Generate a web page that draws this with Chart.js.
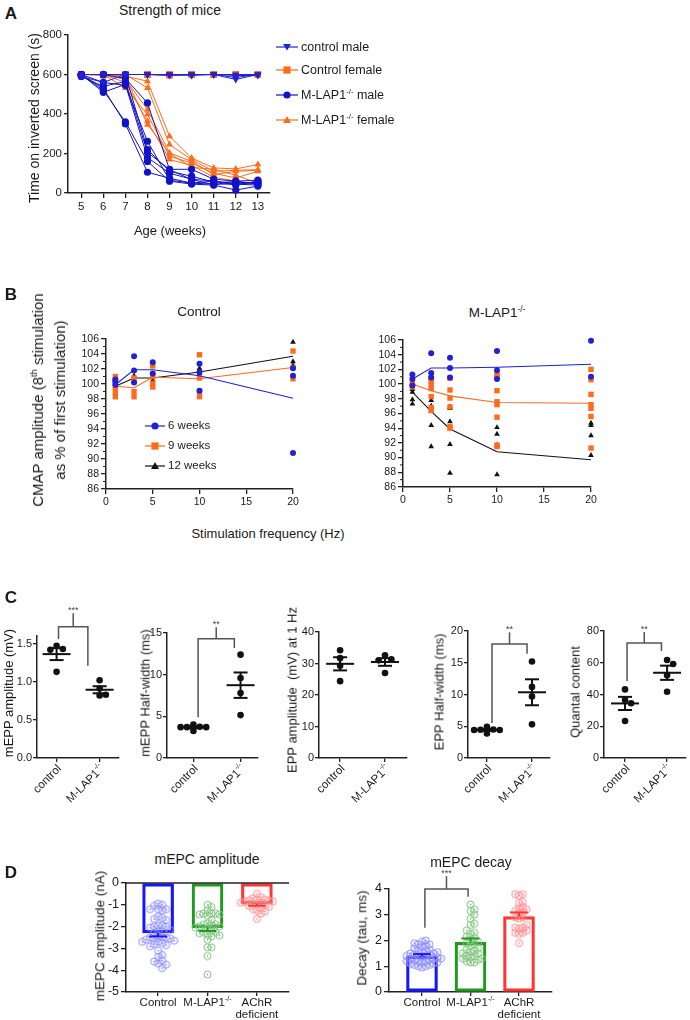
<!DOCTYPE html>
<html>
<head>
<meta charset="utf-8">
<script src="https://cdn.jsdelivr.net/npm/chart.js@4.4.1/dist/chart.umd.min.js"></script>
<style>
  body { margin: 0; width: 690px; height: 1020px; position: relative; overflow: hidden; background: #fff;
         font-family: "Liberation Sans", Arial, sans-serif; color: #1a1a1a; }
  canvas { position: absolute; }
  .t { position: absolute; white-space: nowrap; line-height: 1.15; }
  sup { font-size: 0.62em; vertical-align: baseline; position: relative; top: -0.6em; line-height: 0; }
</style>
</head>
<body>
<script>
const FONT = '"Liberation Sans", Arial, sans-serif';
const BLUE = '#2222d2', ORANGE = '#ff6b1c', BLACK = '#111';

// ---------- A: strength of mice (one line per mouse)
const AGES = [5, 6, 7, 8, 9, 10, 11, 12, 13];
const ctrlMale = [
  [600, 600, 600, 600, 600, 600, 600, 575, 600],
  [590, 560, 600, 600, 600, 595, 600, 585, 600],
  [600, 600, 600, 600, 595, 600, 600, 595, 595],
  [600, 600, 600, 600, 600, 600, 600, 600, 600]
];
const ctrlFemale = [
  [600, 600, 600, 600, 600, 600, 600, 600, 600],
  [600, 600, 600, 600, 600, 600, 600, 600, 600],
  [600, 595, 600, 600, 595, 600, 600, 600, 600],
  [600, 600, 600, 600, 600, 600, 600, 600, 600]
];
const koMale = [
  [600, 530, 350, 105, 75, 50, 45, 45, 40],
  [600, 520, 360, 160, 60, 45, 40, 15, 35],
  [600, 510, 550, 180, 100, 70, 60, 45, 55],
  [590, 540, 565, 205, 120, 120, 70, 60, 65],
  [600, 600, 600, 220, 110, 85, 55, 55, 50],
  [600, 600, 580, 456, 118, 68, 42, 60, 45],
  [600, 560, 545, 262, 65, 50, 60, 40, 60]
];
const koFemale = [
  [600, 600, 592, 566, 287, 177, 127, 122, 144],
  [600, 600, 600, 532, 245, 169, 110, 115, 118],
  [600, 600, 575, 423, 203, 160, 93, 110, 115],
  [600, 600, 532, 397, 186, 152, 100, 76, 110],
  [600, 600, 560, 363, 169, 140, 80, 60, 42],
  [600, 600, 590, 346, 200, 130, 120, 90, 50]
];

// ---------- B: CMAP amplitude vs stimulation frequency
const FREQ = [1, 3, 5, 10, 20];
const ctl6w = [[100.6, 100.3, 99.9], [103.7, 101.8, 100.2], [102.9, 101.4], [102.7, 101.6, 99.1], [102.1, 101.1, 90.8]];
const ctl9w = [[101.0, 100.5, 99.6, 99.0, 98.3], [100.8, 99.0, 98.3], [102.4, 101.0, 100.1, 99.6], [103.9, 100.8, 99.0, 98.3], [104.4, 102.2, 100.7]];
const ctl12w = [[99.7, 98.8], [101.1, 100.5], [101.1, 100.5], [102.1, 101.4], [105.6, 103.0, 102.5]];
const ctl6wMean = [99.9, 101.9, 101.9, 101.1, 98.1];
const ctl9wMean = [99.7, 99.5, 100.9, 100.7, 102.2];
const ctl12wMean = [99.7, 100.8, 100.8, 101.6, 103.7];
const ko6w = [[101.3, 100.7, 99.8], [104.2, 101.5, 100.9], [103.6, 102.2, 100.9], [104.5, 101.9, 100.7], [105.9, 101.0]];
const ko9w = [[100.2, 99.9, 99.6], [100.8, 100.4, 99.9, 99.4, 98.3, 96.8, 96.4], [100.8, 99.2, 98.1, 96.9, 94.2, 94.0],
              [101.3, 101.0, 99.1, 97.6, 97.2, 95.5, 91.7, 91.5], [102.0, 100.6, 98.6, 97.2, 96.7, 95.6, 91.3]];
const ko12w = [[99.3, 98.9, 97.9, 97.3], [97.8, 97.0, 96.3, 94.4, 91.5], [96.9, 96.7, 94.9, 91.8, 87.9], [94.1, 93.2, 91.7, 87.7], [94.7, 94.4, 93.0, 90.3]];
const ko6wMean = [100.7, 102.2, 102.2, 102.3, 102.7];
const ko9wMean = [100.0, 99.1, 98.4, 97.5, 97.4];
const ko12wMean = [98.9, 96.3, 93.9, 90.8, 89.7];

// ---------- C: electrophysiology, control vs M-LAP1-/-
const mEppAmpCtl = [1.47, 1.43, 1.42, 1.13];
const mEppAmpKo = [1.02, 0.91, 0.83, 0.82];
const mEppHwCtl = [4.0, 3.75, 3.7, 3.7, 3.7, 3.25];
const mEppHwKo = [12.4, 9.6, 7.8, 5.15];
const eppAmpCtl = [34.2, 31.7, 29.3, 24.4];
const eppAmpKo = [32.6, 31.3, 31.0, 27.0];
const eppHwCtl = [4.9, 4.5, 4.45, 4.4, 4.4, 3.85];
const eppHwKo = [15.2, 11.2, 9.7, 5.3];
const quantalCtl = [43.2, 36.5, 34.5, 23.3];
const quantalKo = [61.7, 59.2, 52.2, 41.7];

// ---------- D: mEPC amplitude and decay
const D_COLORS = ['#1515ff', '#1f9a1f', '#ff3535'];
const D_LIGHT = ['#8a8aff', '#7cc47c', '#ff8c8c'];
const ampCtl = [-0.95, -1.0, -1.05, -1.2, -1.2, -1.2, -1.25, -1.55, -1.6, -1.65, -1.7, -1.95, -1.95, -2.0, -2.0, -2.05, -2.15, -2.2, -2.2, -2.3, -2.45,
                -2.5, -2.5, -2.5, -2.55, -2.55, -2.6, -2.65, -2.7, -2.7, -2.75, -2.8, -2.85, -2.9, -3.1, -3.3, -3.4, -3.55, -3.6, -3.7, -3.75, -3.9];
const ampKo = [-1.0, -1.1, -1.25, -1.4, -1.4, -1.4, -1.45, -1.45, -1.5, -1.7, -1.85, -1.9, -1.9, -1.95, -2.0, -2.0, -2.05, -2.1, -2.2, -2.25,
               -2.25, -2.3, -2.35, -2.4, -2.45, -2.6, -2.95, -2.95, -3.35, -4.2];
const ampAchr = [-0.5, -0.65, -0.7, -0.75, -0.75, -0.8, -0.8, -0.85, -0.85, -0.9, -0.9, -0.95, -1.0, -1.0, -1.05, -1.1, -1.15, -1.2, -1.25, -1.3, -1.4, -1.65];
const ampMean = [-2.29, -2.05, -0.95];
const ampSem = [0.16, 0.15, 0.09];
const decCtl = [0.95, 1.0, 1.0, 1.05, 1.05, 1.1, 1.1, 1.15, 1.15, 1.2, 1.2, 1.2, 1.25, 1.25, 1.3, 1.3, 1.3, 1.35, 1.35, 1.4, 1.4, 1.4,
                1.45, 1.45, 1.5, 1.5, 1.55, 1.55, 1.6, 1.6, 1.65, 1.7, 1.75, 1.8, 1.85, 1.85, 1.9, 1.95, 2.0];
const decKo = [1.15, 1.15, 1.2, 1.25, 1.3, 1.3, 1.35, 1.4, 1.4, 1.5, 1.5, 1.55, 1.6, 1.65, 1.7, 1.8, 1.85, 1.9, 1.95, 2.0, 2.1, 2.15,
               2.25, 2.3, 2.4, 2.6, 2.65, 2.85, 3.0, 3.15, 3.2, 3.4];
const decAchr = [1.9, 2.25, 2.3, 2.3, 2.4, 2.45, 2.5, 2.5, 2.6, 2.85, 2.9, 2.9, 3.05, 3.1, 3.15, 3.2, 3.25, 3.3, 3.45, 3.5, 3.75, 3.8, 3.8];
const decMean = [1.39, 1.93, 2.93];
const decSem = [0.08, 0.15, 0.16];

// ---------- helpers
const mean = a => a.reduce((s, v) => s + v, 0) / a.length;
const sem = a => { const m = mean(a); return Math.sqrt(a.reduce((s, v) => s + (v - m) ** 2, 0) / (a.length - 1) / a.length); };

function txt(x, y, html, size, opt = {}) {
  const d = document.createElement('div');
  d.className = 't';
  d.style.left = x + 'px';
  d.style.top = y + 'px';
  d.style.fontSize = size + 'px';
  let tf = opt.left ? 'translate(0,-50%)' : 'translate(-50%,-50%)';
  if (opt.rot) tf += ' rotate(-90deg)';
  d.style.transform = tf;
  if (opt.bold) d.style.fontWeight = 'bold';
  if (opt.lh) { d.style.lineHeight = opt.lh + 'px'; d.style.textAlign = 'center'; }
  d.innerHTML = html;
  document.body.appendChild(d);
}

function leg(x0, x1, y, col, shape, html, size, tx) {
  const w = x1 - x0, m = w / 2;
  let mk;
  if (shape === 'circle') mk = `<circle cx="${m}" cy="8" r="3.6" fill="${col}"/>`;
  else if (shape === 'rect') mk = `<rect x="${m - 3.6}" y="4.4" width="7.2" height="7.2" fill="${col}"/>`;
  else if (shape === 'down') mk = `<polygon points="${m - 4},5 ${m + 4},5 ${m},11.5" fill="${col}"/>`;
  else mk = `<polygon points="${m - 4},11 ${m + 4},11 ${m},4" fill="${col}"/>`;
  const d = document.createElement('div');
  d.style.cssText = `position:absolute;left:${x0}px;top:${y - 8}px;width:${w}px;height:16px`;
  d.innerHTML = `<svg width="${w}" height="16"><line x1="0" y1="8" x2="${w}" y2="8" stroke="${col}" stroke-width="1.2"/>${mk}</svg>`;
  document.body.appendChild(d);
  txt(tx, y, html, size, { left: true });
}

// horizontal offsets (data units) so that close values do not sit on top of each other
function swarm(vals, dy, dx) {
  const placed = [];
  return vals.map(v => {
    for (let k = 0; k < 60; k++) {
      const off = (k % 2 ? 1 : -1) * Math.ceil(k / 2) * dx;
      const hit = placed.some(p => ((p.v - v) / dy) ** 2 + ((p.o - off) / dx) ** 2 < 0.95);
      if (!hit) { placed.push({ v, o: off }); return off; }
    }
    return 0;
  });
}

function ring(color) {
  const c = document.createElement('canvas');
  c.width = c.height = 9;
  const g = c.getContext('2d');
  g.strokeStyle = color; g.lineWidth = 1;
  g.beginPath(); g.arc(4.5, 4.5, 3.5, 0, Math.PI * 2); g.stroke();
  g.fillStyle = color;
  g.beginPath(); g.arc(4.5, 4.5, 0.9, 0, Math.PI * 2); g.fill();
  return c;
}

function drawLabel(ctx, px, py, l, size, rot) {
  ctx.font = size + 'px ' + FONT;
  const w1 = ctx.measureText(l.text).width;
  ctx.font = (size * 0.62) + 'px ' + FONT;
  const w2 = l.sup ? ctx.measureText(l.sup).width : 0;
  ctx.save();
  ctx.translate(px, py);
  if (rot) ctx.rotate(-Math.PI / 4);
  const x0 = rot ? -(w1 + w2) : -(w1 + w2) / 2;
  ctx.fillStyle = '#1a1a1a';
  ctx.textBaseline = 'middle';
  ctx.textAlign = 'left';
  ctx.font = size + 'px ' + FONT;
  ctx.fillText(l.text, x0, 0);
  if (l.sup) { ctx.font = (size * 0.62) + 'px ' + FONT; ctx.fillText(l.sup, x0 + w1, -size * 0.38); }
  if (l.line2) { ctx.font = size + 'px ' + FONT; ctx.textAlign = 'center'; ctx.fillText(l.line2, 0, size * 1.05); }
  ctx.restore();
}

const extras = {
  id: 'extras',
  afterDatasetsDraw(chart, args, o) {
    const ctx = chart.ctx, xs = chart.scales.x, ys = chart.scales.y, area = chart.chartArea;
    const X = v => xs.getPixelForValue(v), Y = v => ys.getPixelForValue(v);
    const seg = (x1, y1, x2, y2) => { ctx.beginPath(); ctx.moveTo(x1, y1); ctx.lineTo(x2, y2); ctx.stroke(); };
    ctx.save();
    if (o.zeroLine) { ctx.strokeStyle = '#222'; ctx.lineWidth = 1.5; seg(area.left, Y(0), area.right, Y(0)); }
    if (o.minorY) { ctx.strokeStyle = '#222'; ctx.lineWidth = 1; o.minorY.forEach(v => seg(area.left - 3, Y(v), area.left, Y(v))); }
    (o.meanSem || []).forEach(g => {
      const m = mean(g.vals), e = sem(g.vals), px = X(g.x);
      ctx.strokeStyle = '#111'; ctx.lineWidth = 2;
      seg(px - 14, Y(m), px + 14, Y(m));
      seg(px, Y(m - e), px, Y(m + e));
      seg(px - 7, Y(m - e), px + 7, Y(m - e));
      seg(px - 7, Y(m + e), px + 7, Y(m + e));
    });
    (o.errBars || []).forEach(g => {
      const px = X(g.x), y1 = Y(g.mean + g.sign * g.sem);
      ctx.strokeStyle = g.color; ctx.lineWidth = 2;
      seg(px, Y(g.mean), px, y1);
      seg(px - 9, y1, px + 9, y1);
    });
    if (o.bracket) {
      const b = o.bracket, xl = X(b.x1), xr = X(b.x2), yt = Y(b.top), xm = (xl + xr) / 2;
      ctx.strokeStyle = '#555'; ctx.lineWidth = 1.5;
      ctx.beginPath(); ctx.moveTo(xl, Y(b.left)); ctx.lineTo(xl, yt); ctx.lineTo(xr, yt); ctx.lineTo(xr, Y(b.right)); ctx.stroke();
      seg(xm, yt, xm, Y(b.stem));
      ctx.fillStyle = '#444'; ctx.font = '9px ' + FONT; ctx.textAlign = 'center'; ctx.textBaseline = 'bottom';
      ctx.fillText(b.label, xm, Y(b.stem) + 2);
    }
    (o.labels || []).forEach(l => drawLabel(ctx, X(l.x) + (o.rot ? 3 : 0), area.bottom + (o.rot ? 9 : 11), l, o.labelSize || 11, o.rot));
    ctx.restore();
  }
};

function axis(o) {
  return {
    type: 'linear', min: o.min, max: o.max, position: o.pos, offset: false,
    afterBuildTicks: s => { s.ticks = o.ticks.map(v => ({ value: v })); },
    afterFit: s => { if (o.pos === 'left') s.width = o.size; else s.height = o.size; },
    ticks: { display: o.labels !== false, color: '#1a1a1a', font: { family: FONT, size: o.font || 11 }, padding: o.pad == null ? 2 : o.pad,
             maxRotation: 0, autoSkip: false, callback: o.fmt || (v => String(v)) },
    grid: { offset: false, drawOnChartArea: false, drawTicks: true, tickLength: o.tl || 5, color: '#222', lineWidth: 1.3 },
    border: { color: '#222', width: 1.5 }
  };
}

function make(box, plot, xo, yo, datasets, extra) {
  const c = document.createElement('canvas');
  c.width = box.w; c.height = box.h;
  c.style.left = box.l + 'px'; c.style.top = box.t + 'px';
  document.body.appendChild(c);
  return new Chart(c, {
    type: 'scatter',
    data: { datasets },
    options: {
      responsive: false, animation: false, devicePixelRatio: 1,
      layout: { padding: { top: plot.t - box.t, right: box.l + box.w - plot.r, left: 0, bottom: 0 } },
      elements: { line: { tension: 0 } },
      plugins: { legend: { display: false }, tooltip: { enabled: false }, extras: extra || {} },
      scales: {
        x: axis(Object.assign({ pos: 'bottom', size: box.t + box.h - plot.b }, xo)),
        y: axis(Object.assign({ pos: 'left', size: plot.l - box.l }, yo))
      }
    },
    plugins: [extras]
  });
}

// ---------- panel A
function mouseSets(rows, col, style, r, rot) {
  return rows.map(vals => ({
    data: AGES.map((a, i) => ({ x: a, y: vals[i] })), showLine: true, clip: false,
    borderColor: col, borderWidth: 1, backgroundColor: col, pointBorderColor: col, pointBackgroundColor: col,
    pointStyle: style, pointRadius: r, pointRotation: rot || 0, pointBorderWidth: 0
  }));
}
make({ l: 20, t: 25, w: 258, h: 200 }, { l: 68, t: 35, r: 270, b: 193 },
  { min: 4.4, max: 13.55, ticks: AGES, font: 11.5 },
  { min: 0, max: 800, ticks: [0, 200, 400, 600, 800], font: 11.5, tl: 4 },
  [].concat(mouseSets(ctrlMale, BLUE, 'triangle', 4, 180), mouseSets(koMale, '#1212c8', 'circle', 3.6),
            mouseSets(ctrlFemale, ORANGE, 'rect', 4.4), mouseSets(koFemale, ORANGE, 'triangle', 4)));

txt(11, 14, 'A', 17, { bold: true });
txt(170, 10, 'Strength of mice', 14);
txt(34, 118, 'Time on inverted screen (s)', 14, { rot: true });
txt(170, 231, 'Age (weeks)', 13);
leg(276, 298, 47, BLUE, 'down', 'control male', 12.5, 301);
leg(276, 298, 70, ORANGE, 'rect', 'Control female', 12.5, 301);
leg(276, 298, 95, '#1212c8', 'circle', 'M-LAP1<sup>-/-</sup> male', 12.5, 301);
leg(276, 298, 120, ORANGE, 'tri', 'M-LAP1<sup>-/-</sup> female', 12.5, 301);

// ---------- panel B
function cmapSets(groups, means, col, style, r) {
  const pts = [];
  FREQ.forEach((f, i) => groups[i].forEach(v => pts.push({ x: f, y: v })));
  return [
    { data: pts, clip: false, pointStyle: style, pointRadius: r, pointBackgroundColor: col, pointBorderColor: col, pointBorderWidth: 0 },
    { data: FREQ.map((f, i) => ({ x: f, y: means[i] })), showLine: true, clip: false, borderColor: col, borderWidth: 1.1, pointRadius: 0 }
  ];
}
const bY = { min: 86, max: 106, ticks: [86, 88, 90, 92, 94, 96, 98, 100, 102, 104, 106], font: 10.5, tl: 5 };
const bX = { min: 0, max: 20, ticks: [0, 5, 10, 15, 20], font: 10.5 };
const bMinor = [87, 89, 91, 93, 95, 97, 99, 101, 103, 105];
make({ l: 60, t: 325, w: 243, h: 185 }, { l: 106, t: 339, r: 293, b: 489 }, bX, bY,
  [].concat(cmapSets(ctl6w, ctl6wMean, BLUE, 'circle', 3), cmapSets(ctl9w, ctl9wMean, ORANGE, 'rect', 3.8),
            cmapSets(ctl12w, ctl12wMean, BLACK, 'triangle', 3.3)), { minorY: bMinor });
make({ l: 355, t: 325, w: 246, h: 185 }, { l: 403, t: 340, r: 591, b: 487 }, bX, bY,
  [].concat(cmapSets(ko6w, ko6wMean, BLUE, 'circle', 3), cmapSets(ko9w, ko9wMean, ORANGE, 'rect', 3.8),
            cmapSets(ko12w, ko12wMean, BLACK, 'triangle', 3.3)), { minorY: bMinor });

txt(11, 295, 'B', 17, { bold: true });
txt(49, 400, 'CMAP amplitude (8<sup>th</sup> stimulation<br>as % of first stimulation)', 15, { rot: true, lh: 22 });
txt(199, 312, 'Control', 13.5);
txt(497, 313, 'M-LAP1<sup>-/-</sup>', 13.5);
txt(268, 534, 'Stimulation frequency (Hz)', 13);
leg(145, 165, 426, BLUE, 'circle', '6 weeks', 11.5, 168);
leg(145, 165, 446, ORANGE, 'rect', '9 weeks', 11.5, 168);
leg(145, 165, 466, BLACK, 'tri', '12 weeks', 11.5, 168);

// ---------- panel C
const C_LABELS = [{ x: 1, text: 'control' }, { x: 2, text: 'M-LAP1', sup: '-/-' }];
function colPanel(box, plot, xr, yr, ticks, fmt, ctl, ko, br) {
  const pyu = (plot.b - plot.t) / (yr[1] - yr[0]), pxu = (plot.r - plot.l) / (xr[1] - xr[0]);
  const diam = 6.4;
  const sets = [ctl, ko].map((vals, gi) => {
    const offs = swarm(vals, diam / pyu, diam / pxu);
    return { data: vals.map((v, i) => ({ x: gi + 1 + offs[i], y: v })), clip: false, pointRadius: 3.3,
             pointBackgroundColor: BLACK, pointBorderColor: BLACK, pointBorderWidth: 0 };
  });
  const extra = { meanSem: [{ x: 1, vals: ctl }, { x: 2, vals: ko }], labels: C_LABELS, rot: true, labelSize: 11.5 };
  if (br) extra.bracket = br;
  make(box, plot, { min: xr[0], max: xr[1], ticks: [1, 2], labels: false, tl: 4 },
       { min: yr[0], max: yr[1], ticks, fmt, font: 11, tl: 4, pad: 1 }, sets, extra);
}
colPanel({ l: 0, t: 600, w: 123, h: 215 }, { l: 37, t: 636, r: 121, b: 758 }, [0.545, 2.45], [0, 1.6], [0, 0.5, 1, 1.5],
  v => v.toFixed(1), mEppAmpCtl, mEppAmpKo, { x1: 1.045, x2: 1.727, top: 1.72, left: 1.56, right: 1.21, stem: 1.9, label: '***' });
colPanel({ l: 125, t: 600, w: 138, h: 215 }, { l: 167, t: 633, r: 258, b: 758 }, [0.44, 2.37], [0, 15], [0, 5, 10, 15],
  null, mEppHwCtl, mEppHwKo, { x1: 1.1, x2: 1.868, top: 14.3, left: 4.9, right: 13.2, stem: 15.7, label: '**' });
colPanel({ l: 298, t: 600, w: 114, h: 215 }, { l: 319, t: 632, r: 407, b: 758 }, [0.53, 2.49], [0, 40], [0, 10, 20, 30, 40],
  null, eppAmpCtl, eppAmpKo, null);
colPanel({ l: 446, t: 600, w: 108, h: 215 }, { l: 468, t: 631, r: 550, b: 758 }, [0.58, 2.4], [0, 20], [0, 5, 10, 15, 20],
  null, eppHwCtl, eppHwKo, { x1: 1.113, x2: 1.89, top: 17.95, left: 5.5, right: 16.4, stem: 19.8, label: '**' });
colPanel({ l: 580, t: 600, w: 110, h: 215 }, { l: 604, t: 631, r: 690, b: 758 }, [0.5, 2.45], [0, 80], [0, 20, 40, 60, 80],
  null, quantalCtl, quantalKo, { x1: 1.048, x2: 1.866, top: 72.4, left: 48.5, right: 67.4, stem: 79.4, label: '**' });

txt(11, 598, 'C', 17, { bold: true });
txt(9, 693, 'mEPP amplitude (mV)', 13, { rot: true });
txt(146, 693, 'mEPP Half-width (ms)', 13, { rot: true });
txt(293, 690, 'EPP amplitude &nbsp;(mV) at 1 Hz', 13, { rot: true });
txt(440, 692, 'EPP Half-width (ms)', 13, { rot: true });
txt(576, 692, 'Quantal content', 13, { rot: true });

// ---------- panel D
const D_LABELS = [{ x: 1, text: 'Control' }, { x: 2, text: 'M-LAP1', sup: '-/-' }, { x: 3, text: 'AChR', line2: 'deficient' }];
function barPanel(box, plot, xr, yr, ticks, groups, means, sems, sign, diam, squeeze, extraBr) {
  const pyu = (plot.b - plot.t) / (yr[1] - yr[0]), pxu = (plot.r - plot.l) / (xr[1] - xr[0]);
  const sets = groups.map((vals, gi) => {
    const offs = swarm(vals, diam / pyu, diam * squeeze / pxu);
    return { data: vals.map((v, i) => ({ x: gi + 1 + offs[i], y: v })), clip: false, order: 1,
             pointStyle: ring(D_LIGHT[gi]), pointRadius: 4 };
  });
  sets.push({ type: 'bar', order: 2, data: means.map((m, i) => ({ x: i + 1, y: m })), borderColor: D_COLORS,
              backgroundColor: 'rgba(255,255,255,0)', borderWidth: 2.5, barThickness: 31, borderSkipped: false });
  const extra = {
    errBars: means.map((m, i) => ({ x: i + 1, mean: m, sem: sems[i], sign, color: D_COLORS[i] })),
    labels: D_LABELS, labelSize: 11.5, zeroLine: sign < 0
  };
  if (extraBr) extra.bracket = extraBr;
  make(box, plot, { min: xr[0], max: xr[1], ticks: [1, 2, 3], labels: false, tl: 4 },
       { min: yr[0], max: yr[1], ticks, font: 12.5, tl: 5 }, sets, extra);
}
barPanel({ l: 95, t: 870, w: 200, h: 150 }, { l: 126, t: 883, r: 289, b: 992 }, [0.35, 3.65], [-5, 0], [-5, -4, -3, -2, -1, 0],
  [ampCtl, ampKo, ampAchr], ampMean, ampSem, -1, 5, 0.8, null);
barPanel({ l: 355, t: 862, w: 202, h: 158 }, { l: 389, t: 889, r: 552, b: 992 }, [0.32, 3.68], [0, 4], [0, 1, 2, 3, 4],
  [decCtl, decKo, decAchr], decMean, decSem, 1, 4.5, 0.85,
  { x1: 1.06, x2: 1.95, top: 4.0, left: 2.5, right: 3.7, stem: 4.5, label: '***' });

txt(11, 873, 'D', 17, { bold: true });
txt(207, 859, 'mEPC amplitude', 14);
txt(471, 862, 'mEPC decay', 14);
txt(100, 936, 'mEPC amplitude (nA)', 13.5, { rot: true });
txt(362, 938, 'Decay (tau, ms)', 13.5, { rot: true });
</script>
</body>
</html>
